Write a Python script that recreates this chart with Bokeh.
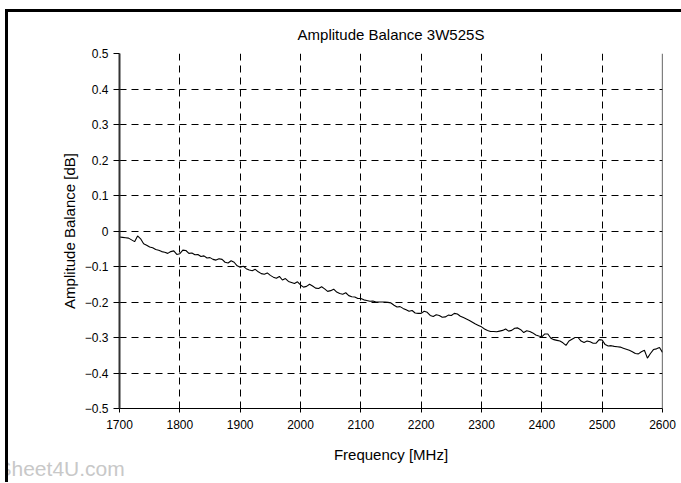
from bokeh.plotting import figure
from bokeh.models import FixedTicker, Span, Title
from bokeh.embed import file_html
from bokeh.resources import INLINE

title_text = "Amplitude Balance 3W525S"
x_label = "Frequency [MHz]"
y_label = "Amplitude Balance [dB]"
watermark = "Sheet4U.com"

x_ticks = [1700, 1800, 1900, 2000, 2100, 2200, 2300, 2400, 2500, 2600]
y_ticks = [-0.5, -0.4, -0.3, -0.2, -0.1, 0, 0.1, 0.2, 0.3, 0.4, 0.5]

freq = [1700, 1705, 1710, 1715, 1720, 1725, 1730, 1735, 1740, 1745,
        1750, 1755, 1760, 1765, 1770, 1775, 1780, 1785, 1790, 1795,
        1800, 1805, 1810, 1815, 1820, 1825, 1830, 1835, 1840, 1845,
        1850, 1855, 1860, 1865, 1870, 1875, 1880, 1885, 1890, 1895,
        1900, 1905, 1910, 1915, 1920, 1925, 1930, 1935, 1940, 1945,
        1950, 1955, 1960, 1965, 1970, 1975, 1980, 1985, 1990, 1995,
        2000, 2005, 2010, 2015, 2020, 2025, 2030, 2035, 2040, 2045,
        2050, 2055, 2060, 2065, 2070, 2075, 2080, 2085, 2090, 2095,
        2100, 2105, 2110, 2115, 2120, 2125, 2130, 2135, 2140, 2145,
        2150, 2155, 2160, 2165, 2170, 2175, 2180, 2185, 2190, 2195,
        2200, 2205, 2210, 2215, 2220, 2225, 2230, 2235, 2240, 2245,
        2250, 2255, 2260, 2265, 2270, 2275, 2280, 2285, 2290, 2295,
        2300, 2305, 2310, 2315, 2320, 2325, 2330, 2335, 2340, 2345,
        2350, 2355, 2360, 2365, 2370, 2375, 2380, 2385, 2390, 2395,
        2400, 2405, 2410, 2415, 2420, 2425, 2430, 2435, 2440, 2445,
        2450, 2455, 2460, 2465, 2470, 2475, 2480, 2485, 2490, 2495,
        2500, 2505, 2510, 2515, 2520, 2525, 2530, 2535, 2540, 2545,
        2550, 2555, 2560, 2565, 2570, 2575, 2580, 2585, 2590, 2595,
        2600]

balance = [-0.017, -0.018, -0.019, -0.020, -0.025, -0.030, -0.014, -0.022, -0.036, -0.040,
           -0.045, -0.047, -0.052, -0.054, -0.058, -0.060, -0.063, -0.058, -0.056, -0.066,
           -0.064, -0.054, -0.055, -0.063, -0.062, -0.067, -0.066, -0.072, -0.070, -0.076,
           -0.075, -0.080, -0.082, -0.078, -0.080, -0.088, -0.090, -0.084, -0.088, -0.098,
           -0.102, -0.099, -0.106, -0.110, -0.112, -0.108, -0.115, -0.120, -0.122, -0.118,
           -0.125, -0.130, -0.133, -0.128, -0.138, -0.134, -0.142, -0.145, -0.148, -0.143,
           -0.152, -0.158, -0.156, -0.150, -0.155, -0.161, -0.162, -0.157, -0.163, -0.170,
           -0.168, -0.164, -0.172, -0.176, -0.178, -0.174, -0.182, -0.185, -0.186, -0.190,
           -0.190, -0.194, -0.196, -0.198, -0.197, -0.200, -0.200, -0.200, -0.200, -0.201,
           -0.203, -0.209, -0.214, -0.213, -0.218, -0.222, -0.226, -0.224, -0.231, -0.232,
           -0.232, -0.226, -0.229, -0.238, -0.241, -0.236, -0.238, -0.243, -0.242, -0.237,
           -0.238, -0.232, -0.234, -0.240, -0.244, -0.248, -0.252, -0.257, -0.262, -0.266,
           -0.270, -0.276, -0.280, -0.283, -0.283, -0.284, -0.282, -0.280, -0.276, -0.282,
           -0.280, -0.274, -0.273, -0.278, -0.286, -0.281, -0.283, -0.287, -0.293, -0.296,
           -0.298, -0.290, -0.290, -0.302, -0.306, -0.308, -0.310, -0.315, -0.322, -0.310,
           -0.305, -0.300, -0.300, -0.310, -0.314, -0.310, -0.312, -0.316, -0.316, -0.306,
           -0.307, -0.320, -0.324, -0.323, -0.325, -0.326, -0.327, -0.330, -0.333, -0.336,
           -0.340, -0.345, -0.346, -0.340, -0.336, -0.358, -0.345, -0.334, -0.332, -0.328,
           -0.342]

FONT = "Liberation Sans"

p = figure(width=675, height=470, output_backend="svg", toolbar_location=None,
           x_range=(1700, 2600), y_range=(-0.5, 0.5),
           min_border_left=111, min_border_right=27, min_border_top=36, min_border_bottom=77,
           tools="")
p.styles = {"border-left": "3px solid black", "border-top": "3px solid black",
            "border-right": "3px solid black", "box-sizing": "content-box",
            "margin-left": "5px", "margin-top": "9px"}

p.title.text = title_text
p.title.align = "center"
p.title.text_font = FONT
p.title.text_font_size = "15px"
p.title.text_font_style = "normal"
p.title.text_color = "black"
p.title.standoff = 22

p.outline_line_color = None
p.background_fill_color = "white"
p.border_fill_color = "white"

for ax in (p.xaxis[0], p.yaxis[0]):
    ax.axis_line_color = "black"
    ax.major_tick_line_color = "black"
    ax.minor_tick_line_color = None
    ax.major_tick_in = 0
    ax.major_label_text_font = FONT
    ax.major_label_text_font_size = "12px"
    ax.major_label_text_color = "black"
    ax.axis_label_text_font = FONT
    ax.axis_label_text_font_size = "15px"
    ax.axis_label_text_font_style = "normal"
    ax.axis_label_text_color = "black"

p.xaxis.ticker = FixedTicker(ticks=x_ticks)
p.yaxis.ticker = FixedTicker(ticks=y_ticks)
p.yaxis.major_label_overrides = {0: "0"}
p.xaxis.axis_label = x_label
p.yaxis.axis_label = y_label
p.xaxis.major_tick_out = 4
p.yaxis.major_tick_out = 6
p.xaxis.major_label_standoff = 7
p.yaxis.major_label_standoff = 5
p.xaxis.axis_label_standoff = 14
p.yaxis.axis_label_standoff = 4
p.yaxis.axis_line_width = 2
p.yaxis.axis_line_color = "#333333"
p.xaxis.axis_line_width = 1.2

p.xgrid.ticker = FixedTicker(ticks=x_ticks)
p.ygrid.ticker = FixedTicker(ticks=y_ticks)
for g in (p.xgrid[0], p.ygrid[0]):
    g.grid_line_color = "black"
    g.grid_line_dash = "7 5"
    g.grid_line_width = 1

p.add_layout(Span(location=2600, dimension="height", line_color="black", line_width=1.2))

p.line(freq, balance, line_color="black", line_width=1.1)

wm = Title(text=watermark, align="left", offset=-122, standoff=-28,
           text_font=FONT, text_font_size="21px", text_font_style="normal",
           text_color="#c8c8c8")
p.add_layout(wm, "below")

open("out.html", "w").write(file_html(p, INLINE))
